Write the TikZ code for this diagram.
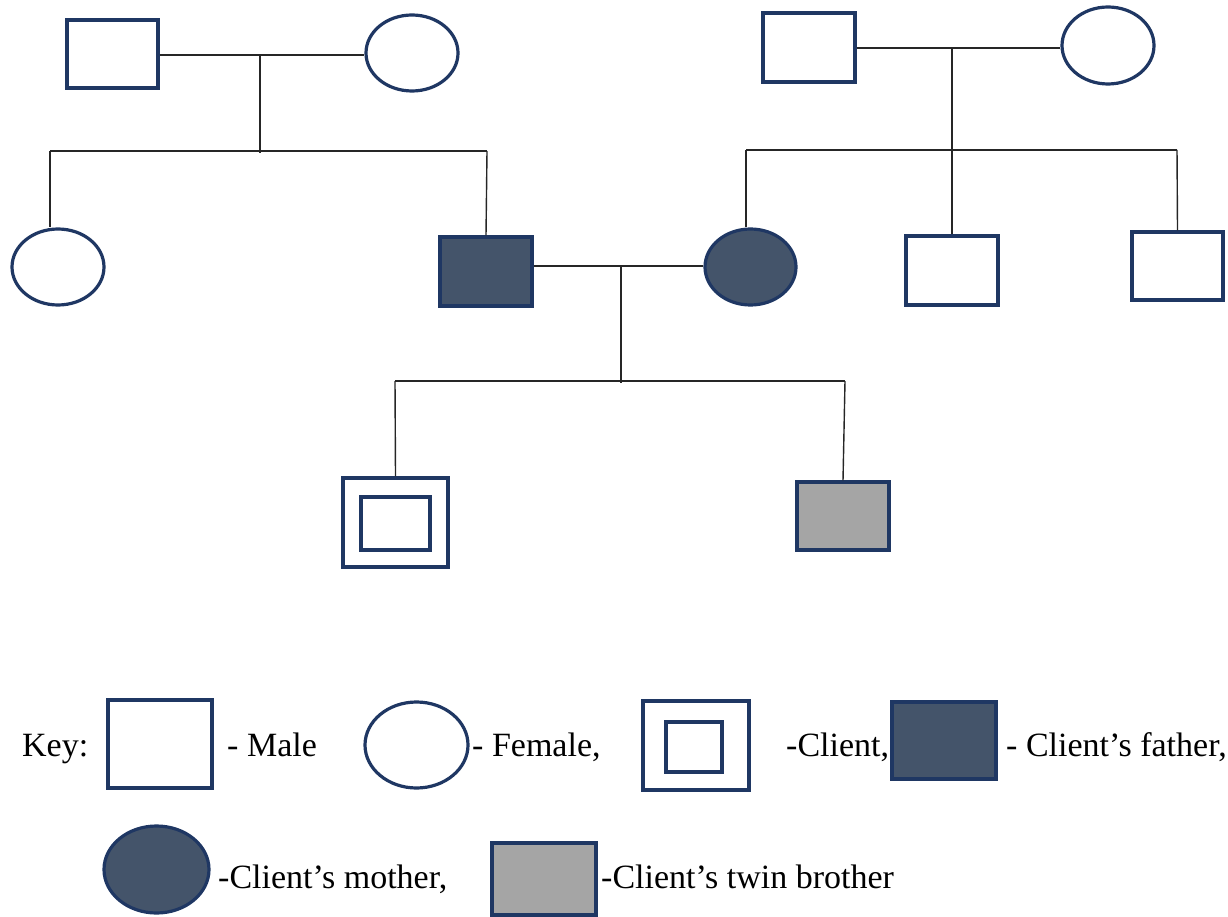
\documentclass[tikz,border=0pt]{standalone}
\usepackage{fontspec}
\setmainfont{Liberation Serif}
\usetikzlibrary{shapes.geometric}
\definecolor{navy}{HTML}{1F3763}
\definecolor{darkfill}{HTML}{44546A}
\definecolor{twingray}{HTML}{A5A5A5}
\tikzset{
  outline/.style={draw=navy, line width=3.2pt, inner sep=0pt, fill=white},
  malebox/.style={outline, rectangle},
  femalebox/.style={outline, ellipse},
  dark/.style={fill=darkfill},
  twin/.style={fill=twingray},
  link/.style={draw=black!85, line width=1.4pt},
  lbl/.style={inner sep=0pt, anchor=base west, font=\rmfamily\fontsize{34}{40}\selectfont}
}
\begin{document}
\begin{tikzpicture}[x=1pt, y=-1pt]
\useasboundingbox (0,0) rectangle (1228,917);
% generation I
\node[malebox, minimum width=91pt, minimum height=68pt] (gf1) at (112.5,54) {};
\node[femalebox, minimum width=92pt, minimum height=76pt] (gm1) at (412,53) {};
\node[malebox, minimum width=92pt, minimum height=69pt] (gf2) at (809,47.5) {};
\node[femalebox, minimum width=92pt, minimum height=77pt] (gm2) at (1108,45.5) {};
% generation II
\node[femalebox, minimum width=92pt, minimum height=76pt] (aunt) at (58,267) {};
\node[malebox, dark, minimum width=92pt, minimum height=69pt] (father) at (486,271.5) {};
\node[femalebox, dark, minimum width=91pt, minimum height=76pt] (mother) at (750.5,267) {};
\node[malebox, minimum width=92pt, minimum height=69pt] (uncleA) at (952,270.5) {};
\node[malebox, minimum width=91pt, minimum height=68pt] (uncleB) at (1177.5,266) {};
% generation III
\node[malebox, minimum width=105pt, minimum height=89pt] (client) at (395.5,522.5) {};
\node[malebox, minimum width=69pt, minimum height=53pt] (clientin) at (395.5,523.5) {};
\node[malebox, twin, minimum width=92pt, minimum height=68pt] (brother) at (843,516) {};
% junction coordinates
\coordinate (m1) at (260,55);
\coordinate (s1) at (260,153);
\coordinate (s1L) at (50,151);
\coordinate (s1R) at (487,151);
\coordinate (m2) at (952,48);
\coordinate (s2) at (952,150);
\coordinate (s2L) at (746,150);
\coordinate (s2R) at (1177,150);
\coordinate (m3) at (621,266);
\coordinate (s3) at (621,383);
\coordinate (s3L) at (395,381);
\coordinate (s3R) at (845,381);
% connectors
\draw[link] (gf1.east |- m1) -- (gm1.west |- m1);
\draw[link] (m1) -- (s1);
\draw[link] (s1L) -- (s1R);
\draw[link] (s1L) -- (s1L |- aunt.north);
\draw[link] (s1R) -- (father.north);
\draw[link] (gf2.east |- m2) -- (gm2.west |- m2);
\draw[link] (m2) -- (s2);
\draw[link] (s2L) -- (s2R);
\draw[link] (s2L) -- (s2L |- mother.north);
\draw[link] (s2) -- (uncleA.north);
\draw[link] (s2R) -- (uncleB.north);
\draw[link] (father.east |- m3) -- (mother.west |- m3);
\draw[link] (m3) -- (s3);
\draw[link] (s3L) -- (s3R);
\draw[link] (s3L) -- (client.north);
\draw[link] (s3R) -- (brother.north);
% key
\node[lbl] (keyt) at (22,756) {Key:};
\node[malebox, minimum width=104pt, minimum height=88pt] (kmale) at (160,744) {};
\node[lbl] (kmalet) at (227,756) {- Male};
\node[femalebox, minimum width=103pt, minimum height=86pt] (kfemale) at (416.5,745) {};
\node[lbl] (kfemalet) at (472,756) {- Female,};
\node[malebox, minimum width=106pt, minimum height=89pt] (kclient) at (696,745.5) {};
\node[malebox, minimum width=56pt, minimum height=50pt] (kclientin) at (694,747) {};
\node[lbl] (kclientt) at (786,756) {-Client,};
\node[malebox, dark, minimum width=104pt, minimum height=77pt] (kfather) at (944,740.5) {};
\node[lbl] (kfathert) at (1006,756) {- Client’s father,};
\node[femalebox, dark, minimum width=105pt, minimum height=87pt] (kmother) at (156.5,869.5) {};
\node[lbl] (kmothert) at (218,888) {-Client’s mother,};
\node[malebox, twin, minimum width=104pt, minimum height=72pt] (ktwin) at (544,879) {};
\node[lbl] (ktwint) at (601,888) {-Client’s twin brother};
\end{tikzpicture}
\end{document}
